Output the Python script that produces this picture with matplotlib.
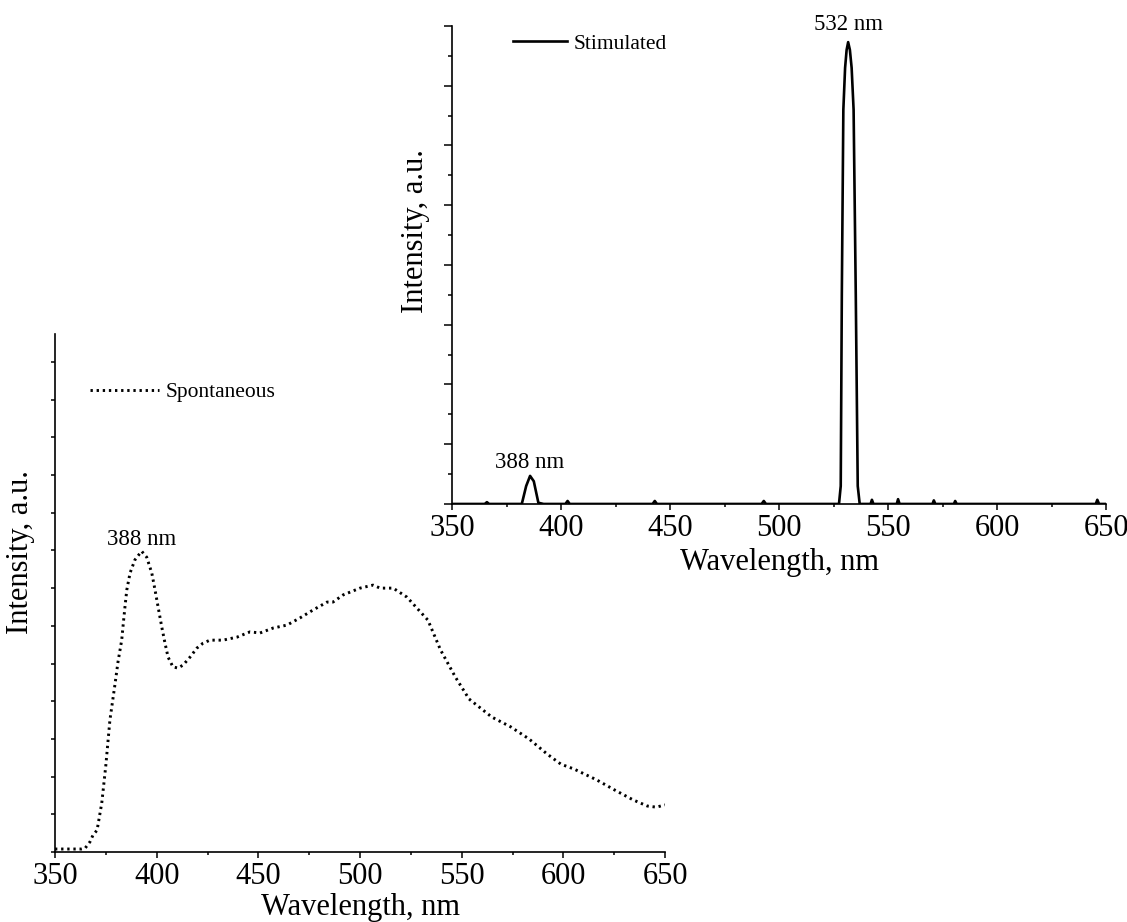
import matplotlib
matplotlib.use("Agg")
import matplotlib.pyplot as plt
from matplotlib.ticker import MultipleLocator

plt.rcParams['font.family'] = ['Liberation Serif', 'DejaVu Serif']

# Spontaneous emission spectrum (lower left panel), arbitrary units
spont_wl = [350, 355, 360, 363, 364.8, 367.2, 368.7, 370.7, 373, 375, 377,
            379.5, 381.0, 382.8, 383.6, 384.4, 385.3, 386.9, 389.3, 392.6,
            395.1, 397.6, 399.2, 400.7, 402.5, 404.1, 405.6, 408.0, 410.5,
            413.0, 416.4, 419.8, 422.8, 426.2, 432.6, 439.5, 445.9, 450.8,
            457.2, 464.1, 470.5, 476.9, 483.8, 486.7, 491.7, 500.0, 506.4,
            509.9, 516.3, 523.1, 533.4, 539.6, 546.9, 553.6, 564.8, 574.1,
            583.1, 592.0, 598.8, 605.3, 616.5, 625.4, 634.4, 641.3, 645.7, 650]
spont_int = [0.08, 0.08, 0.08, 0.08, 0.10, 0.27, 0.45, 0.58, 1.3, 2.3, 3.5,
             4.45, 5.05, 5.62, 6.07, 6.50, 6.95, 7.40, 7.75, 7.98,
             7.82, 7.40, 6.95, 6.50, 5.97, 5.54, 5.17, 4.91, 4.88,
             4.96, 5.17, 5.41, 5.54, 5.62, 5.62, 5.70, 5.84, 5.81,
             5.94, 6.02, 6.21, 6.42, 6.63, 6.63, 6.82, 7.00, 7.08,
             7.00, 7.00, 6.76, 6.15, 5.36, 4.64, 4.06, 3.58, 3.32,
             3.00, 2.60, 2.33, 2.20, 1.91, 1.64, 1.38, 1.22, 1.19, 1.25]

# Stimulated emission spectrum (upper right panel)
stim_wl = [350, 365, 366, 367, 382, 384, 385.8, 387.5, 389.6, 392, 402, 403,
           404, 442, 443, 444, 492, 493, 494, 527.5, 528.3, 528.8, 529.5,
           530.3, 531, 531.7, 532.5, 533.3, 534.2, 535.2, 536.1, 537, 542,
           542.6, 543.3, 554, 554.6, 555.3, 570.4, 571, 571.7, 580.2, 580.8,
           581.5, 600, 620, 640, 645.3, 646, 646.8, 650]
stim_int = [0, 0, 0.03, 0, 0, 0.30, 0.47, 0.38, 0.02, 0, 0, 0.05,
            0, 0, 0.05, 0, 0, 0.05, 0, 0, 0.3, 3.5, 6.6,
            7.3, 7.6, 7.73, 7.6, 7.3, 6.6, 3.5, 0.3, 0, 0,
            0.07, 0, 0, 0.08, 0, 0, 0.06, 0, 0, 0.05,
            0, 0, 0, 0, 0, 0.07, 0, 0]

xticks = [350, 400, 450, 500, 550, 600, 650]

fig = plt.figure(figsize=(11.27, 9.22), dpi=100)

# lower-left panel
ax1 = fig.add_axes([0.0488, 0.0759, 0.5413, 0.5618])
ax1.patch.set_alpha(0)
ax1.plot(spont_wl, spont_int, color='black', lw=2.1,
         linestyle=(0, (0.8, 1.3)), label='Spontaneous')
ax1.set_xlim(350, 650)
ax1.set_ylim(0, 13.74)
ax1.set_xticks(xticks)
ax1.xaxis.set_minor_locator(MultipleLocator(25))
ax1.yaxis.set_major_locator(MultipleLocator(1))
ax1.set_yticklabels([])
ax1.tick_params(axis='x', which='major', length=4.5, width=1.1, labelsize=22, pad=3)
ax1.tick_params(axis='x', which='minor', length=2.5, width=1.1)
ax1.tick_params(axis='y', which='major', length=3, width=1.1)
for s in ['top', 'right']:
    ax1.spines[s].set_visible(False)
for s in ['left', 'bottom']:
    ax1.spines[s].set_linewidth(1.2)
ax1.set_xlabel('Wavelength, nm', fontsize=22, labelpad=1)
ax1.set_ylabel('Intensity, a.u.', fontsize=22)
ax1.yaxis.set_label_coords(-0.032, 0.58)
ax1.text(392.6, 8.0, '388 nm', fontsize=16.5, ha='center', va='bottom')
ax1.legend(loc='center left', bbox_to_anchor=(0.0799, 0.5748),
           bbox_transform=fig.transFigure, frameon=False, fontsize=15.5,
           handlelength=3.2, handletextpad=0.3, borderpad=0, borderaxespad=0)

# upper-right panel
ax2 = fig.add_axes([0.4011, 0.4534, 0.5803, 0.5184])
ax2.patch.set_alpha(0)
ax2.plot(stim_wl, stim_int, color='black', lw=1.9, label='Stimulated')
ax2.set_xlim(350, 650)
ax2.set_ylim(0, 8)
ax2.set_xticks(xticks)
ax2.xaxis.set_minor_locator(MultipleLocator(25))
ax2.yaxis.set_major_locator(MultipleLocator(1))
ax2.yaxis.set_minor_locator(MultipleLocator(0.5))
ax2.set_yticklabels([])
ax2.tick_params(axis='x', which='major', length=4.5, width=1.1, labelsize=22, pad=3)
ax2.tick_params(axis='x', which='minor', length=2.5, width=1.1)
ax2.tick_params(axis='y', which='major', length=6, width=1.1)
ax2.tick_params(axis='y', which='minor', length=3, width=1.1)
for s in ['top', 'right']:
    ax2.spines[s].set_visible(False)
for s in ['left', 'bottom']:
    ax2.spines[s].set_linewidth(1.2)
ax2.set_xlabel('Wavelength, nm', fontsize=22, labelpad=3)
ax2.set_ylabel('Intensity, a.u.', fontsize=22)
ax2.yaxis.set_label_coords(-0.034, 0.57)
ax2.text(385.8, 0.52, '388 nm', fontsize=16.5, ha='center', va='bottom')
ax2.text(531.7, 7.85, '532 nm', fontsize=16.5, ha='center', va='bottom')
ax2.legend(loc='center left', bbox_to_anchor=(0.4552, 0.9523),
           bbox_transform=fig.transFigure, frameon=False, fontsize=15.5,
           handlelength=2.5, handletextpad=0.3, borderpad=0, borderaxespad=0)

fig.savefig('out.png', dpi=100)
